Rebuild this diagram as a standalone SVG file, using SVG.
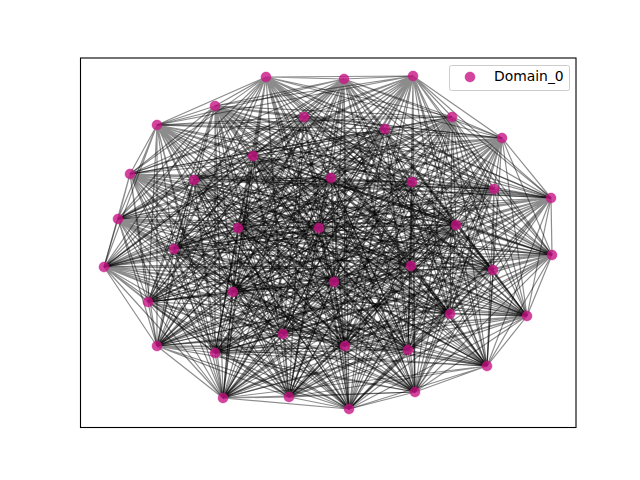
<svg xmlns="http://www.w3.org/2000/svg" width="640" height="480" viewBox="0 0 640 480">
<style>
.e{fill:none;stroke:#000;stroke-opacity:0.45;stroke-width:1.2}
.n{fill:#c71585;fill-opacity:0.8;stroke:#c71585;stroke-opacity:0.8;stroke-width:0.5}
.lbl{font-family:"DejaVu Sans",sans-serif;font-size:13.9px;fill:#000}
</style>
<rect x="0" y="0" width="640" height="480" fill="#fff"/>
<g id="connectors">
<path class="e" d="M266 77L344 79M266 77L413 76M266 77L215 106M266 77L304 117M266 77L385 129M266 77L452 117M266 77L157 125M266 77L502 138M266 77L253 156M266 77L130 174M266 77L194 180M266 77L331 178M266 77L412 182M266 77L494 189M266 77L551 198M266 77L118 219M266 77L238 228M266 77L319 228M266 77L456 225M266 77L174 249M266 77L552 255M266 77L104 267M266 77L411 266M266 77L493 270M266 77L334 282M266 77L233 292M266 77L148 302M266 77L450 314M266 77L527 316M266 77L283 334M266 77L157 346M266 77L345 346M266 77L408 350M266 77L215 353M266 77L487 366M266 77L223 398M266 77L289 397M266 77L415 392M266 77L349 409"/>
<path class="e" d="M344 79L413 76M344 79L215 106M344 79L304 117M344 79L385 129M344 79L452 117M344 79L157 125M344 79L502 138M344 79L253 156M344 79L130 174M344 79L194 180M344 79L331 178M344 79L412 182M344 79L494 189M344 79L551 198M344 79L118 219M344 79L238 228M344 79L319 228M344 79L456 225M344 79L174 249M344 79L552 255M344 79L104 267M344 79L411 266M344 79L493 270M344 79L334 282M344 79L233 292M344 79L148 302M344 79L450 314M344 79L527 316M344 79L283 334M344 79L157 346M344 79L345 346M344 79L408 350M344 79L215 353M344 79L487 366M344 79L223 398M344 79L289 397M344 79L415 392M344 79L349 409"/>
<path class="e" d="M413 76L215 106M413 76L304 117M413 76L385 129M413 76L452 117M413 76L157 125M413 76L502 138M413 76L253 156M413 76L130 174M413 76L194 180M413 76L331 178M413 76L412 182M413 76L494 189M413 76L551 198M413 76L118 219M413 76L238 228M413 76L319 228M413 76L456 225M413 76L174 249M413 76L552 255M413 76L104 267M413 76L411 266M413 76L493 270M413 76L334 282M413 76L233 292M413 76L148 302M413 76L450 314M413 76L527 316M413 76L283 334M413 76L157 346M413 76L345 346M413 76L408 350M413 76L215 353M413 76L487 366M413 76L223 398M413 76L289 397M413 76L415 392M413 76L349 409"/>
<path class="e" d="M215 106L304 117M215 106L385 129M215 106L452 117M215 106L157 125M215 106L502 138M215 106L253 156M215 106L130 174M215 106L194 180M215 106L331 178M215 106L412 182M215 106L494 189M215 106L551 198M215 106L118 219M215 106L238 228M215 106L319 228M215 106L456 225M215 106L174 249M215 106L552 255M215 106L104 267M215 106L411 266M215 106L493 270M215 106L334 282M215 106L233 292M215 106L148 302M215 106L450 314M215 106L527 316M215 106L283 334M215 106L157 346M215 106L345 346M215 106L408 350M215 106L215 353M215 106L487 366M215 106L223 398M215 106L289 397M215 106L415 392M215 106L349 409"/>
<path class="e" d="M304 117L385 129M304 117L452 117M304 117L157 125M304 117L502 138M304 117L253 156M304 117L130 174M304 117L194 180M304 117L331 178M304 117L412 182M304 117L494 189M304 117L551 198M304 117L118 219M304 117L238 228M304 117L319 228M304 117L456 225M304 117L174 249M304 117L552 255M304 117L104 267M304 117L411 266M304 117L493 270M304 117L334 282M304 117L233 292M304 117L148 302M304 117L450 314M304 117L527 316M304 117L283 334M304 117L157 346M304 117L345 346M304 117L408 350M304 117L215 353M304 117L487 366M304 117L223 398M304 117L289 397M304 117L415 392M304 117L349 409"/>
<path class="e" d="M385 129L452 117M385 129L157 125M385 129L502 138M385 129L253 156M385 129L130 174M385 129L194 180M385 129L331 178M385 129L412 182M385 129L494 189M385 129L551 198M385 129L118 219M385 129L238 228M385 129L319 228M385 129L456 225M385 129L174 249M385 129L552 255M385 129L104 267M385 129L411 266M385 129L493 270M385 129L334 282M385 129L233 292M385 129L148 302M385 129L450 314M385 129L527 316M385 129L283 334M385 129L157 346M385 129L345 346M385 129L408 350M385 129L215 353M385 129L487 366M385 129L223 398M385 129L289 397M385 129L415 392M385 129L349 409"/>
<path class="e" d="M452 117L157 125M452 117L502 138M452 117L253 156M452 117L130 174M452 117L194 180M452 117L331 178M452 117L412 182M452 117L494 189M452 117L551 198M452 117L118 219M452 117L238 228M452 117L319 228M452 117L456 225M452 117L174 249M452 117L552 255M452 117L104 267M452 117L411 266M452 117L493 270M452 117L334 282M452 117L233 292M452 117L148 302M452 117L450 314M452 117L527 316M452 117L283 334M452 117L157 346M452 117L345 346M452 117L408 350M452 117L215 353M452 117L487 366M452 117L223 398M452 117L289 397M452 117L415 392M452 117L349 409"/>
<path class="e" d="M157 125L502 138M157 125L253 156M157 125L130 174M157 125L194 180M157 125L331 178M157 125L412 182M157 125L494 189M157 125L551 198M157 125L118 219M157 125L238 228M157 125L319 228M157 125L456 225M157 125L174 249M157 125L552 255M157 125L104 267M157 125L411 266M157 125L493 270M157 125L334 282M157 125L233 292M157 125L148 302M157 125L450 314M157 125L527 316M157 125L283 334M157 125L157 346M157 125L345 346M157 125L408 350M157 125L215 353M157 125L487 366M157 125L223 398M157 125L289 397M157 125L415 392M157 125L349 409"/>
<path class="e" d="M502 138L253 156M502 138L130 174M502 138L194 180M502 138L331 178M502 138L412 182M502 138L494 189M502 138L551 198M502 138L118 219M502 138L238 228M502 138L319 228M502 138L456 225M502 138L174 249M502 138L552 255M502 138L104 267M502 138L411 266M502 138L493 270M502 138L334 282M502 138L233 292M502 138L148 302M502 138L450 314M502 138L527 316M502 138L283 334M502 138L157 346M502 138L345 346M502 138L408 350M502 138L215 353M502 138L487 366M502 138L223 398M502 138L289 397M502 138L415 392M502 138L349 409"/>
<path class="e" d="M253 156L130 174M253 156L194 180M253 156L331 178M253 156L412 182M253 156L494 189M253 156L551 198M253 156L118 219M253 156L238 228M253 156L319 228M253 156L456 225M253 156L174 249M253 156L552 255M253 156L104 267M253 156L411 266M253 156L493 270M253 156L334 282M253 156L233 292M253 156L148 302M253 156L450 314M253 156L527 316M253 156L283 334M253 156L157 346M253 156L345 346M253 156L408 350M253 156L215 353M253 156L487 366M253 156L223 398M253 156L289 397M253 156L415 392M253 156L349 409"/>
<path class="e" d="M130 174L194 180M130 174L331 178M130 174L412 182M130 174L494 189M130 174L551 198M130 174L118 219M130 174L238 228M130 174L319 228M130 174L456 225M130 174L174 249M130 174L552 255M130 174L104 267M130 174L411 266M130 174L493 270M130 174L334 282M130 174L233 292M130 174L148 302M130 174L450 314M130 174L527 316M130 174L283 334M130 174L157 346M130 174L345 346M130 174L408 350M130 174L215 353M130 174L487 366M130 174L223 398M130 174L289 397M130 174L415 392M130 174L349 409"/>
<path class="e" d="M194 180L331 178M194 180L412 182M194 180L494 189M194 180L551 198M194 180L118 219M194 180L238 228M194 180L319 228M194 180L456 225M194 180L174 249M194 180L552 255M194 180L104 267M194 180L411 266M194 180L493 270M194 180L334 282M194 180L233 292M194 180L148 302M194 180L450 314M194 180L527 316M194 180L283 334M194 180L157 346M194 180L345 346M194 180L408 350M194 180L215 353M194 180L487 366M194 180L223 398M194 180L289 397M194 180L415 392M194 180L349 409"/>
<path class="e" d="M331 178L412 182M331 178L494 189M331 178L551 198M331 178L118 219M331 178L238 228M331 178L319 228M331 178L456 225M331 178L174 249M331 178L552 255M331 178L104 267M331 178L411 266M331 178L493 270M331 178L334 282M331 178L233 292M331 178L148 302M331 178L450 314M331 178L527 316M331 178L283 334M331 178L157 346M331 178L345 346M331 178L408 350M331 178L215 353M331 178L487 366M331 178L223 398M331 178L289 397M331 178L415 392M331 178L349 409"/>
<path class="e" d="M412 182L494 189M412 182L551 198M412 182L118 219M412 182L238 228M412 182L319 228M412 182L456 225M412 182L174 249M412 182L552 255M412 182L104 267M412 182L411 266M412 182L493 270M412 182L334 282M412 182L233 292M412 182L148 302M412 182L450 314M412 182L527 316M412 182L283 334M412 182L157 346M412 182L345 346M412 182L408 350M412 182L215 353M412 182L487 366M412 182L223 398M412 182L289 397M412 182L415 392M412 182L349 409"/>
<path class="e" d="M494 189L551 198M494 189L118 219M494 189L238 228M494 189L319 228M494 189L456 225M494 189L174 249M494 189L552 255M494 189L104 267M494 189L411 266M494 189L493 270M494 189L334 282M494 189L233 292M494 189L148 302M494 189L450 314M494 189L527 316M494 189L283 334M494 189L157 346M494 189L345 346M494 189L408 350M494 189L215 353M494 189L487 366M494 189L223 398M494 189L289 397M494 189L415 392M494 189L349 409"/>
<path class="e" d="M551 198L118 219M551 198L238 228M551 198L319 228M551 198L456 225M551 198L174 249M551 198L552 255M551 198L104 267M551 198L411 266M551 198L493 270M551 198L334 282M551 198L233 292M551 198L148 302M551 198L450 314M551 198L527 316M551 198L283 334M551 198L157 346M551 198L345 346M551 198L408 350M551 198L215 353M551 198L487 366M551 198L223 398M551 198L289 397M551 198L415 392M551 198L349 409"/>
<path class="e" d="M118 219L238 228M118 219L319 228M118 219L456 225M118 219L174 249M118 219L552 255M118 219L104 267M118 219L411 266M118 219L493 270M118 219L334 282M118 219L233 292M118 219L148 302M118 219L450 314M118 219L527 316M118 219L283 334M118 219L157 346M118 219L345 346M118 219L408 350M118 219L215 353M118 219L487 366M118 219L223 398M118 219L289 397M118 219L415 392M118 219L349 409"/>
<path class="e" d="M238 228L319 228M238 228L456 225M238 228L174 249M238 228L552 255M238 228L104 267M238 228L411 266M238 228L493 270M238 228L334 282M238 228L233 292M238 228L148 302M238 228L450 314M238 228L527 316M238 228L283 334M238 228L157 346M238 228L345 346M238 228L408 350M238 228L215 353M238 228L487 366M238 228L223 398M238 228L289 397M238 228L415 392M238 228L349 409"/>
<path class="e" d="M319 228L456 225M319 228L174 249M319 228L552 255M319 228L104 267M319 228L411 266M319 228L493 270M319 228L334 282M319 228L233 292M319 228L148 302M319 228L450 314M319 228L527 316M319 228L283 334M319 228L157 346M319 228L345 346M319 228L408 350M319 228L215 353M319 228L487 366M319 228L223 398M319 228L289 397M319 228L415 392M319 228L349 409"/>
<path class="e" d="M456 225L174 249M456 225L552 255M456 225L104 267M456 225L411 266M456 225L493 270M456 225L334 282M456 225L233 292M456 225L148 302M456 225L450 314M456 225L527 316M456 225L283 334M456 225L157 346M456 225L345 346M456 225L408 350M456 225L215 353M456 225L487 366M456 225L223 398M456 225L289 397M456 225L415 392M456 225L349 409"/>
<path class="e" d="M174 249L552 255M174 249L104 267M174 249L411 266M174 249L493 270M174 249L334 282M174 249L233 292M174 249L148 302M174 249L450 314M174 249L527 316M174 249L283 334M174 249L157 346M174 249L345 346M174 249L408 350M174 249L215 353M174 249L487 366M174 249L223 398M174 249L289 397M174 249L415 392M174 249L349 409"/>
<path class="e" d="M552 255L104 267M552 255L411 266M552 255L493 270M552 255L334 282M552 255L233 292M552 255L148 302M552 255L450 314M552 255L527 316M552 255L283 334M552 255L157 346M552 255L345 346M552 255L408 350M552 255L215 353M552 255L487 366M552 255L223 398M552 255L289 397M552 255L415 392M552 255L349 409"/>
<path class="e" d="M104 267L411 266M104 267L493 270M104 267L334 282M104 267L233 292M104 267L148 302M104 267L450 314M104 267L527 316M104 267L283 334M104 267L157 346M104 267L345 346M104 267L408 350M104 267L215 353M104 267L487 366M104 267L223 398M104 267L289 397M104 267L415 392M104 267L349 409"/>
<path class="e" d="M411 266L493 270M411 266L334 282M411 266L233 292M411 266L148 302M411 266L450 314M411 266L527 316M411 266L283 334M411 266L157 346M411 266L345 346M411 266L408 350M411 266L215 353M411 266L487 366M411 266L223 398M411 266L289 397M411 266L415 392M411 266L349 409"/>
<path class="e" d="M493 270L334 282M493 270L233 292M493 270L148 302M493 270L450 314M493 270L527 316M493 270L283 334M493 270L157 346M493 270L345 346M493 270L408 350M493 270L215 353M493 270L487 366M493 270L223 398M493 270L289 397M493 270L415 392M493 270L349 409"/>
<path class="e" d="M334 282L233 292M334 282L148 302M334 282L450 314M334 282L527 316M334 282L283 334M334 282L157 346M334 282L345 346M334 282L408 350M334 282L215 353M334 282L487 366M334 282L223 398M334 282L289 397M334 282L415 392M334 282L349 409"/>
<path class="e" d="M233 292L148 302M233 292L450 314M233 292L527 316M233 292L283 334M233 292L157 346M233 292L345 346M233 292L408 350M233 292L215 353M233 292L487 366M233 292L223 398M233 292L289 397M233 292L415 392M233 292L349 409"/>
<path class="e" d="M148 302L450 314M148 302L527 316M148 302L283 334M148 302L157 346M148 302L345 346M148 302L408 350M148 302L215 353M148 302L487 366M148 302L223 398M148 302L289 397M148 302L415 392M148 302L349 409"/>
<path class="e" d="M450 314L527 316M450 314L283 334M450 314L157 346M450 314L345 346M450 314L408 350M450 314L215 353M450 314L487 366M450 314L223 398M450 314L289 397M450 314L415 392M450 314L349 409"/>
<path class="e" d="M527 316L283 334M527 316L157 346M527 316L345 346M527 316L408 350M527 316L215 353M527 316L487 366M527 316L223 398M527 316L289 397M527 316L415 392M527 316L349 409"/>
<path class="e" d="M283 334L157 346M283 334L345 346M283 334L408 350M283 334L215 353M283 334L487 366M283 334L223 398M283 334L289 397M283 334L415 392M283 334L349 409"/>
<path class="e" d="M157 346L345 346M157 346L408 350M157 346L215 353M157 346L487 366M157 346L223 398M157 346L289 397M157 346L415 392M157 346L349 409"/>
<path class="e" d="M345 346L408 350M345 346L215 353M345 346L487 366M345 346L223 398M345 346L289 397M345 346L415 392M345 346L349 409"/>
<path class="e" d="M408 350L215 353M408 350L487 366M408 350L223 398M408 350L289 397M408 350L415 392M408 350L349 409"/>
<path class="e" d="M215 353L487 366M215 353L223 398M215 353L289 397M215 353L415 392M215 353L349 409"/>
<path class="e" d="M487 366L223 398M487 366L289 397M487 366L415 392M487 366L349 409"/>
<path class="e" d="M223 398L289 397M223 398L415 392M223 398L349 409"/>
<path class="e" d="M289 397L415 392M289 397L349 409M415 392L349 409"/>
</g>
<g id="nodes">
<g id="n0"><circle class="n" cx="266" cy="77" r="5"/></g>
<g id="n1"><circle class="n" cx="344" cy="79" r="5"/></g>
<g id="n2"><circle class="n" cx="413" cy="76" r="5"/></g>
<g id="n3"><circle class="n" cx="215" cy="106" r="5"/></g>
<g id="n4"><circle class="n" cx="304" cy="117" r="5"/></g>
<g id="n5"><circle class="n" cx="385" cy="129" r="5"/></g>
<g id="n6"><circle class="n" cx="452" cy="117" r="5"/></g>
<g id="n7"><circle class="n" cx="157" cy="125" r="5"/></g>
<g id="n8"><circle class="n" cx="502" cy="138" r="5"/></g>
<g id="n9"><circle class="n" cx="253" cy="156" r="5"/></g>
<g id="n10"><circle class="n" cx="130" cy="174" r="5"/></g>
<g id="n11"><circle class="n" cx="194" cy="180" r="5"/></g>
<g id="n12"><circle class="n" cx="331" cy="178" r="5"/></g>
<g id="n13"><circle class="n" cx="412" cy="182" r="5"/></g>
<g id="n14"><circle class="n" cx="494" cy="189" r="5"/></g>
<g id="n15"><circle class="n" cx="551" cy="198" r="5"/></g>
<g id="n16"><circle class="n" cx="118" cy="219" r="5"/></g>
<g id="n17"><circle class="n" cx="238" cy="228" r="5"/></g>
<g id="n18"><circle class="n" cx="319" cy="228" r="5"/></g>
<g id="n19"><circle class="n" cx="456" cy="225" r="5"/></g>
<g id="n20"><circle class="n" cx="174" cy="249" r="5"/></g>
<g id="n21"><circle class="n" cx="552" cy="255" r="5"/></g>
<g id="n22"><circle class="n" cx="104" cy="267" r="5"/></g>
<g id="n23"><circle class="n" cx="411" cy="266" r="5"/></g>
<g id="n24"><circle class="n" cx="493" cy="270" r="5"/></g>
<g id="n25"><circle class="n" cx="334" cy="282" r="5"/></g>
<g id="n26"><circle class="n" cx="233" cy="292" r="5"/></g>
<g id="n27"><circle class="n" cx="148" cy="302" r="5"/></g>
<g id="n28"><circle class="n" cx="450" cy="314" r="5"/></g>
<g id="n29"><circle class="n" cx="527" cy="316" r="5"/></g>
<g id="n30"><circle class="n" cx="283" cy="334" r="5"/></g>
<g id="n31"><circle class="n" cx="157" cy="346" r="5"/></g>
<g id="n32"><circle class="n" cx="345" cy="346" r="5"/></g>
<g id="n33"><circle class="n" cx="408" cy="350" r="5"/></g>
<g id="n34"><circle class="n" cx="215" cy="353" r="5"/></g>
<g id="n35"><circle class="n" cx="487" cy="366" r="5"/></g>
<g id="n36"><circle class="n" cx="223" cy="398" r="5"/></g>
<g id="n37"><circle class="n" cx="289" cy="397" r="5"/></g>
<g id="n38"><circle class="n" cx="415" cy="392" r="5"/></g>
<g id="n39"><circle class="n" cx="349" cy="409" r="5"/></g>
</g>
<rect id="axes" x="80.5" y="58" width="495.5" height="369.5" fill="none" stroke="#000" stroke-width="1.1"/>
<g id="legend">
<rect x="449.5" y="65.5" width="120" height="25" rx="2" fill="#fff" fill-opacity="0.8" stroke="#ccc" stroke-width="1"/>
<circle class="n" cx="470" cy="77" r="5"/>
<text class="lbl" x="494" y="81">Domain_0</text>
</g>
</svg>
